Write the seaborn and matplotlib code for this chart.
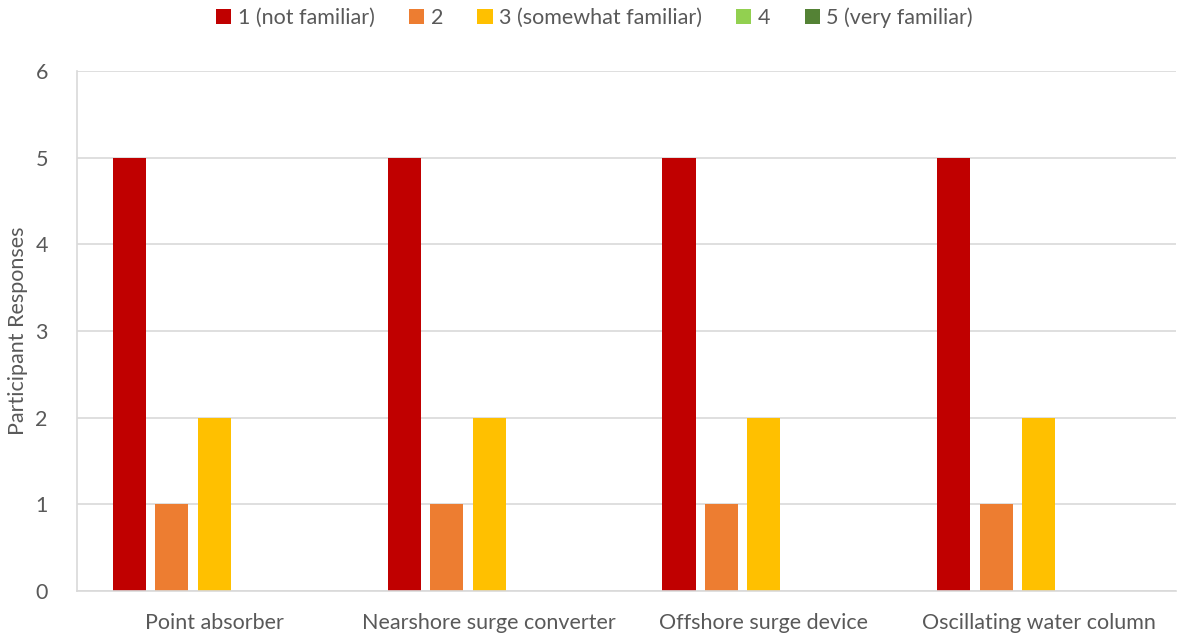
import matplotlib
matplotlib.use("Agg")
import matplotlib.pyplot as plt
import seaborn as sns
import pandas as pd

devices = ["Point absorber", "Nearshore surge converter",
           "Offshore surge device", "Oscillating water column"]
levels = ["1 (not familiar)", "2", "3 (somewhat familiar)", "4", "5 (very familiar)"]
colors = ["#C00000", "#ED7D31", "#FFC000", "#92D050", "#548235"]
# responses per familiarity level, one list per device
point_absorber = [5, 1, 2, 0, 0]
nearshore_surge = [5, 1, 2, 0, 0]
offshore_surge = [5, 1, 2, 0, 0]
oscillating_column = [5, 1, 2, 0, 0]
counts = [point_absorber, nearshore_surge, offshore_surge, oscillating_column]

rows = []
for dev, vals in zip(devices, counts):
    for lev, v in zip(levels, vals):
        rows.append({"device": dev, "level": lev, "count": v})
df = pd.DataFrame(rows)

sns.set_theme(style="white")
plt.rcParams["font.family"] = ["Lato", "DejaVu Sans"]
text_color = "#595959"
grid_color = "#D9D9D9"
fs = 15.5

fig = plt.figure(figsize=(11.79, 6.37), dpi=100)
ax = fig.add_axes([0.0653, 0.0722, 0.9322, 0.8163])

sns.barplot(data=df, x="device", y="count", hue="level", order=devices,
            hue_order=levels, palette=colors, width=0.773, gap=0.22,
            saturation=1, linewidth=0, ax=ax, legend=True)

ax.set_ylim(0, 6)
ax.set_xlim(-0.5, len(devices) - 0.5)
ax.set_yticks(range(0, 7))
ax.yaxis.grid(True, color=grid_color, linewidth=1.2)
ax.set_axisbelow(True)
for side in ["top", "right"]:
    ax.spines[side].set_visible(False)
ax.spines["left"].set_color(grid_color)
ax.spines["left"].set_linewidth(1.2)
ax.spines["bottom"].set_color(grid_color)
ax.spines["bottom"].set_linewidth(1.2)
ax.tick_params(axis="both", length=0, labelsize=fs, colors=text_color)
ax.tick_params(axis="x", pad=16)
ax.tick_params(axis="y", pad=21)
ax.set_xlabel("")
ax.set_ylabel("Participant Responses", fontsize=fs, color=text_color, labelpad=5)

handles, labels = ax.get_legend_handles_labels()
ax.legend(handles, labels, loc="center", bbox_to_anchor=(0.471, 1.102), ncol=5,
          frameon=False, fontsize=fs, labelcolor=text_color,
          handlelength=0.7, handleheight=0.7, handletextpad=0.3, columnspacing=1.6)

fig.savefig("out.png", dpi=100)
